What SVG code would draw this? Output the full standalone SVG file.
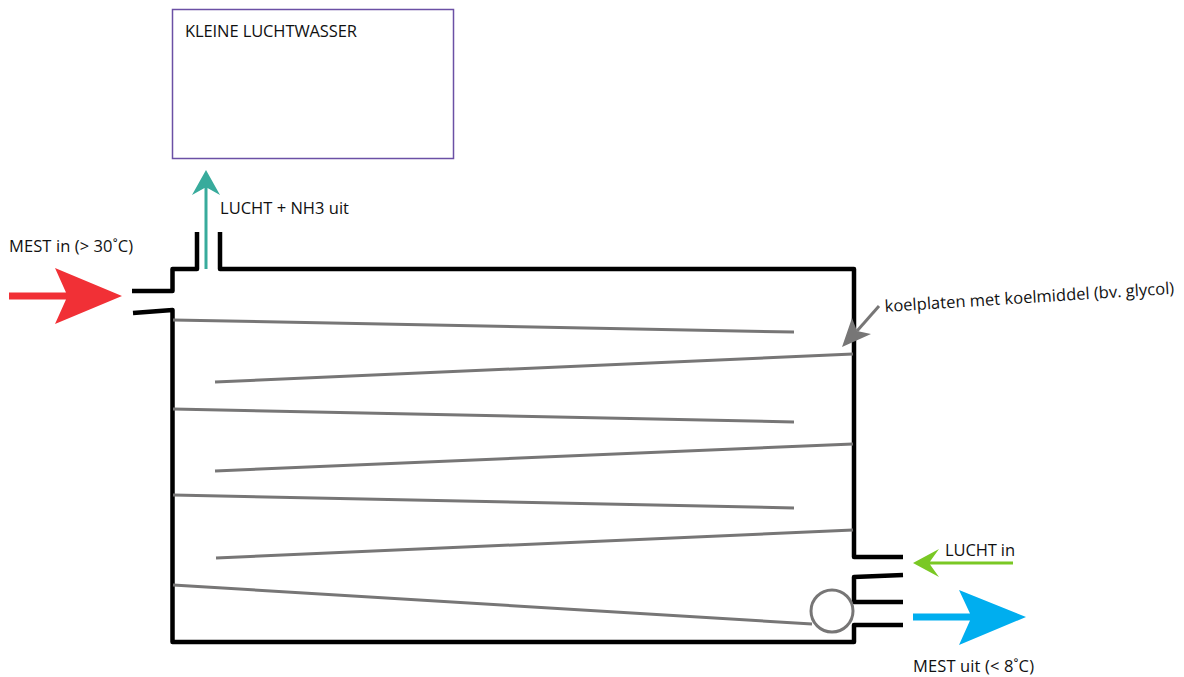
<svg xmlns="http://www.w3.org/2000/svg" width="1184" height="677" viewBox="0 0 1184 677">
<style>
text{font-family:"Open Sans","Noto Sans","Liberation Sans",sans-serif;font-size:16.500px;fill:#111}
.wall{fill:none;stroke:#000;stroke-width:4.500;stroke-linejoin:round}
.plate{fill:none;stroke:#777676;stroke-width:3}
</style>
<rect width="1184" height="677" fill="#fff"/>
<g id="luchtwasser">
<rect x="172.500" y="9.500" width="281" height="149" fill="#fff" stroke="#6b50a5" stroke-width="1.500"/>
<text x="185" y="37" textLength="172">KLEINE LUCHTWASSER</text>
</g>
<g id="tank">
<path class="wall" d="M220 232V269H854V557H903"/>
<path class="wall" d="M197 232V269H172.500V291H132"/>
<path class="wall" d="M133 313L172.500 310V642H854V625H903"/>
<path class="wall" d="M903 575L854 577V602H903"/>
</g>
<g id="koelplaten">
<path class="plate" d="M173 320L794 332"/>
<path class="plate" d="M215 382L853 354"/>
<path class="plate" d="M173 409L794 422"/>
<path class="plate" d="M215 471L853 444"/>
<path class="plate" d="M173 495L794 508"/>
<path class="plate" d="M216 558L853 530"/>
<path class="plate" d="M173 585L812 624"/>
</g>
<g id="pomp"><circle cx="832" cy="611" r="21" fill="#fff" stroke="#777676" stroke-width="3"/></g>
<g id="connectors">
<path d="M9 292.500H66L55 268 122 296 55 324 66 299.500H9Z" fill="#f13036"/>
<path d="M204.500 269V188L192 195 206 170 220 195 207.500 188V269Z" fill="#38ab9c"/>
<path d="M913 613.500H970L959 590 1026 617 959 645 970 620.500H913Z" fill="#00aeef"/>
<path d="M1013 561.500H930L939 549 913 563 939 577 930 564.500H1013Z" fill="#7ac824"/>
<path d="M879 306L857 331" stroke="#777676" stroke-width="3" fill="none"/>
<path d="M842 347L852 318 857 331 871 334Z" fill="#777676"/>
</g>
<g id="labels">
<text x="9" y="252" textLength="124">MEST in (&gt; 30˚C)</text>
<text x="220" y="214" textLength="129">LUCHT + NH3 uit</text>
<text x="945" y="556" textLength="70">LUCHT in</text>
<text x="913" y="672" textLength="121">MEST uit (&lt; 8˚C)</text>
<text transform="translate(885 312) rotate(-3.600)" textLength="290">koelplaten met koelmiddel (bv. glycol)</text>
</g>
</svg>
